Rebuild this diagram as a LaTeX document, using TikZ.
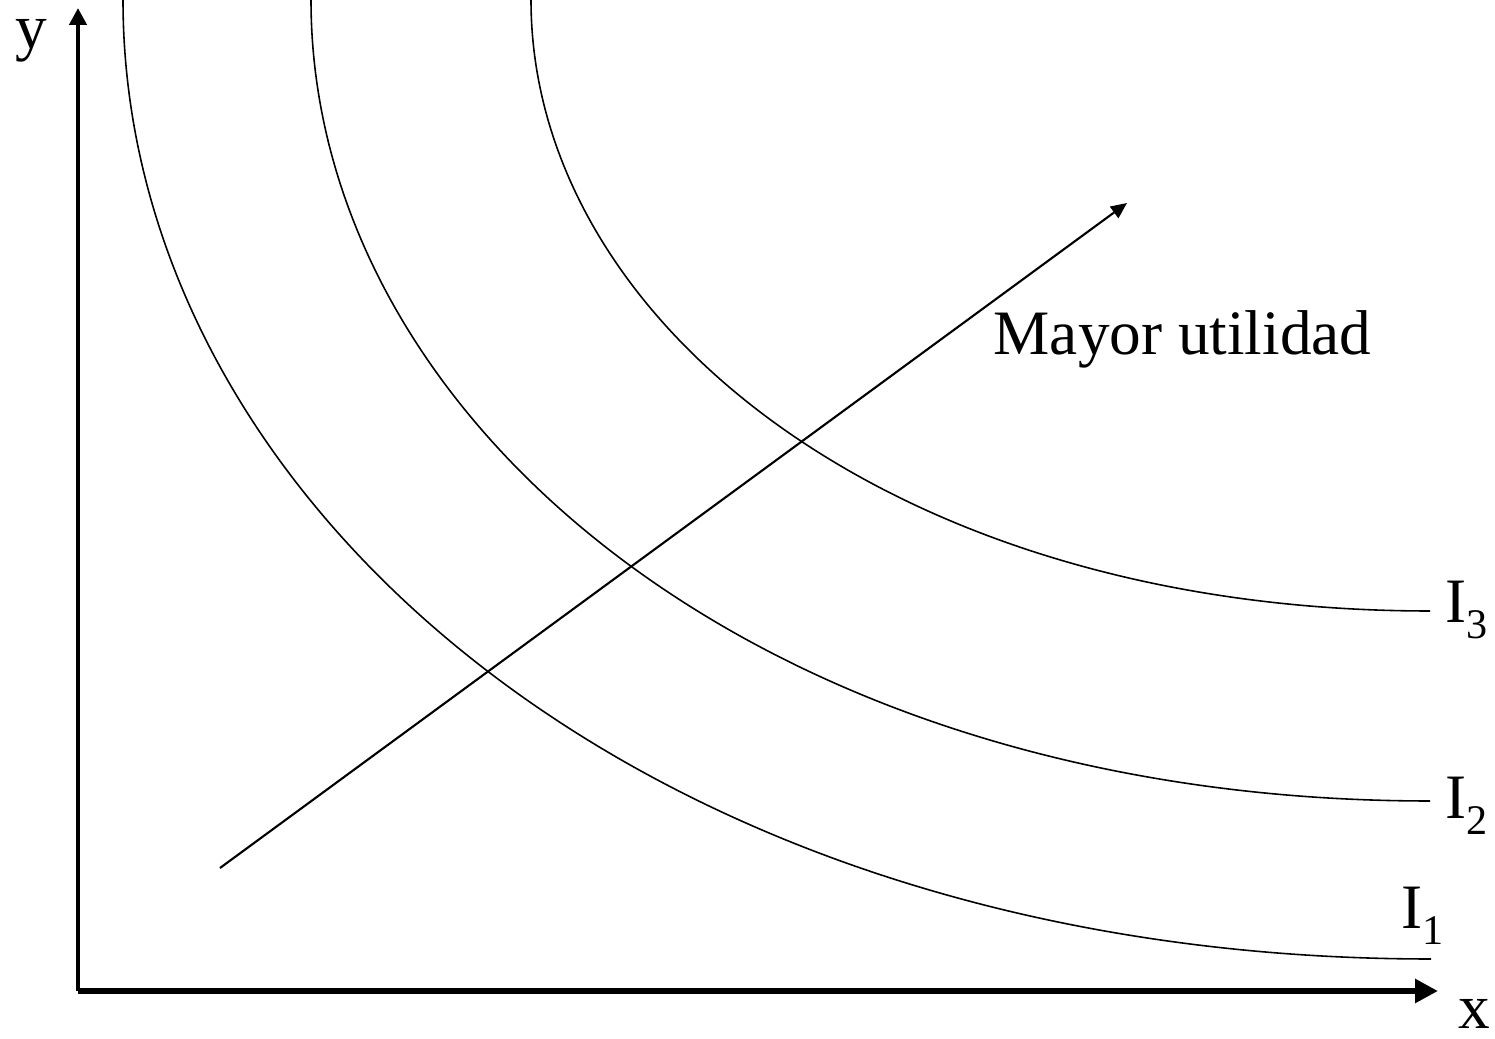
\documentclass[tikz,border=0pt]{standalone}
\usepackage{fontspec}
\setmainfont{Liberation Serif}
\usetikzlibrary{arrows.meta}
% I with a lowered small index
\newcommand{\isub}[1]{I\raisebox{-4.3pt}{\fontsize{12}{12}\selectfont #1}}

\begin{document}
\begin{tikzpicture}[font=\fontsize{18}{22}\selectfont,
  curva/.style={black, line width=0.45pt},
  etiq/.style={anchor=base west, inner sep=0pt}]
\useasboundingbox (0,0) rectangle (14.95,10.39);
% Axes
\coordinate (O) at (0.78,0.48);
\coordinate (ytip) at (0.78,10.31);
\coordinate (xtip) at (14.38,0.48);
\draw[line width=1.3pt, -{Triangle[length=0.17cm,width=0.17cm]}] (O) -- (ytip);
\draw[line width=1.9pt, -{Triangle[length=0.23cm,width=0.23cm]}] (O) -- (xtip);
\node[etiq] (ylab) at (0.15,9.90) {y};
\node[etiq] (xlab) at (14.58,0.10) {x};
% Indifference curve I_1
\draw[curva] (1.23,10.39) .. controls (1.23,5.38) and (6.46,0.80) .. (14.31,0.80);
% Indifference curve I_2
\draw[curva] (3.11,10.39) .. controls (3.11,6.21) and (7.59,2.38) .. (14.30,2.38);
% Indifference curve I_3
\draw[curva] (5.31,10.39) .. controls (5.31,7.19) and (8.91,4.28) .. (14.30,4.28);
% Labels of the curves
\node[etiq] (i3) at (14.45,4.16) {\isub{3}};
\node[etiq] (i2) at (14.45,2.20) {\isub{2}};
\node[etiq] (i1) at (14.01,1.10) {\isub{1}};
% Direction of higher utility
\coordinate (A) at (2.20,1.71);
\coordinate (B) at (11.27,8.36);
\draw[line width=0.6pt, -{Triangle[length=0.16cm,width=0.14cm]}] (A) -- (B);
\node[etiq] (mu) at (9.93,6.84) {Mayor utilidad};
\end{tikzpicture}
\end{document}
